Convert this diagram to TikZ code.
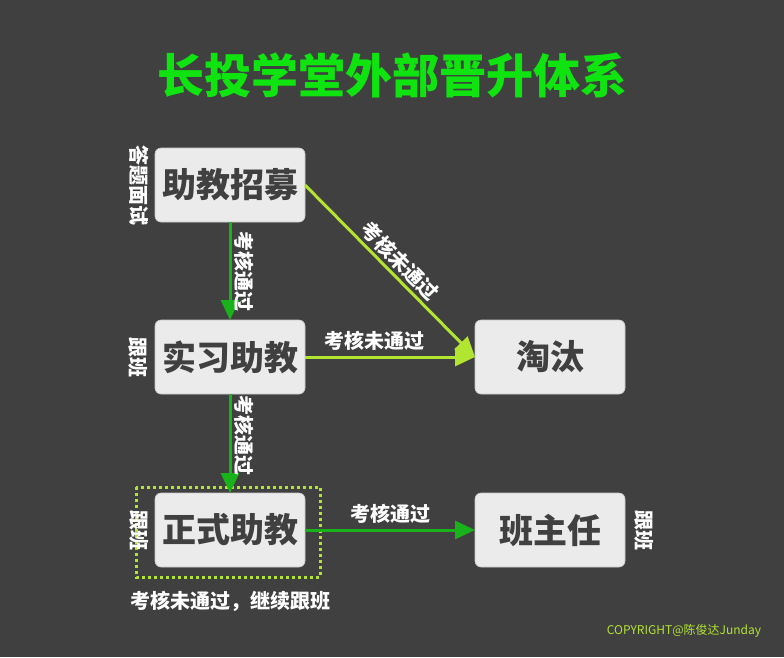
\documentclass[tikz,border=0pt]{standalone}
\usepackage{fontspec}
\setmainfont{Noto Sans CJK SC}
\newfontfamily\heavy{Noto Sans CJK SC}[UprightFont={* Black}]
\usetikzlibrary{positioning,arrows.meta,calc}

\definecolor{bg}{RGB}{64,64,64}
\definecolor{boxgray}{RGB}{235,235,235}
\definecolor{titlegreen}{RGB}{16,228,16}
\definecolor{passgreen}{RGB}{26,178,26}
\definecolor{faillime}{RGB}{178,228,50}

\begin{document}
\begin{tikzpicture}[x=1pt, y=-1pt,
 box/.style={fill=boxgray, draw=boxgray!85!black, line width=0.6pt, rounded corners=6pt,
  minimum width=150pt, minimum height=74pt, outer sep=0pt, text=bg,
  font=\fontsize{34}{34}\selectfont\heavy},
 tag/.style={text=white, inner sep=3pt, font=\fontsize{20}{20}\selectfont\bfseries},
 pass/.style={draw=passgreen, line width=3pt, -{Triangle[length=20pt,width=18pt]}},
 fail/.style={draw=faillime, line width=3pt, -{Triangle[length=20pt,width=18pt]}}]
 \useasboundingbox (0,0) rectangle (784,657);
 \fill[bg] (0,0) rectangle (784,657);

 \node[text=titlegreen, font=\fontsize{47}{47}\selectfont\heavy] (title) at (392,75) {长投学堂外部晋升体系};

 \node[box] (recruit) at (230,185) {助教招募};
 \node[box, below=98pt of recruit] (intern) {实习助教};
 \node[box, right=170pt of intern] (out) {淘汰};
 \node[box, below=99pt of intern] (formal) {正式助教};
 \node[box, right=170pt of formal] (head) {班主任};

 % dotted frame round the formal assistant
 \draw[faillime, line width=3pt, dash pattern=on 3pt off 3pt]
  ($(formal.north west)+(-19,-6)$) rectangle ($(formal.south east)+(15,10)$);

 \path (recruit) edge[pass] node[midway, rotate=-90, anchor=south, tag] {考核通过} (intern)
  (intern) edge[pass] node[pos=0.42, rotate=-90, anchor=south, tag] {考核通过} (formal)
  (recruit.east) edge[fail] node[midway, sloped, above, tag] {考核未通过} (out.west)
  (intern) edge[fail] node[pos=0.41, above, tag, inner sep=5pt] {考核未通过} (out)
  (formal) edge[pass] node[midway, above, tag, inner sep=5pt] {考核通过} (head);

 \node[tag, rotate=-90] (recruitside) at ($(recruit.west)+(-16,0)$) {答题面试};
 \node[tag, rotate=-90] (internside) at ($(intern.west)+(-17,0)$) {跟班};
 \node[tag, rotate=-90] (formalside) at ($(formal.west)+(-16,0)$) {跟班};
 \node[tag, rotate=-90] (headside) at ($(head.east)+(19,0)$) {跟班};
 \node[tag] (note) at ($(formal.south)+(0,34)$) {考核未通过，继续跟班};

 \node[text=faillime, font=\fontsize{12}{12}\selectfont] (copy) at (684,631) {COPYRIGHT@陈俊达Junday};
\end{tikzpicture}
\end{document}
